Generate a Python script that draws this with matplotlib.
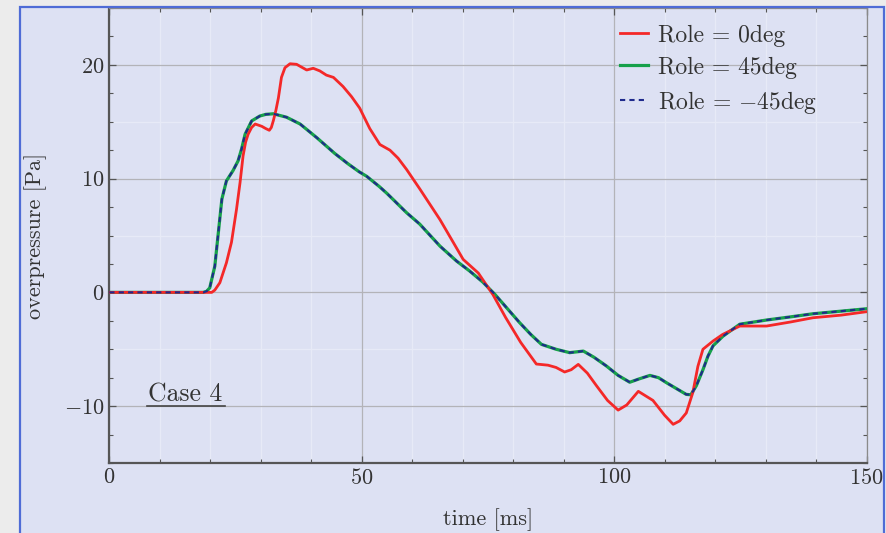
import numpy as np
import matplotlib
matplotlib.use('Agg')
import matplotlib.pyplot as plt
from matplotlib.patches import Rectangle
from matplotlib.ticker import MultipleLocator

plt.rcParams['font.family'] = 'cmr10'
plt.rcParams['mathtext.fontset'] = 'cm'
plt.rcParams['axes.formatter.use_mathtext'] = True

# pressure traces, time in ms, overpressure in Pa
t_0deg = [0, 20.3, 20.9, 21.9, 23.2, 24.2, 25.2, 25.9, 26.5, 27.0, 27.5, 28.2, 28.9,
          30.2, 31.0, 31.7, 32.1, 32.5, 33.0, 33.5, 34.1, 34.8, 35.8, 37.1, 38.1,
          39.1, 40.4, 41.7, 43.0, 44.4, 46.3, 48.0, 49.6, 51.6, 53.6, 55.6, 57.2,
          58.9, 61.5, 65.5, 68.0, 70.1, 73.1, 76.0, 78.5, 81.5, 84.6, 86.9, 88.5,
          90.2, 91.5, 92.9, 94.7, 96.5, 98.7, 100.8, 102.5, 104.8, 107.7, 110.0,
          111.7, 113.0, 114.3, 115.6, 116.6, 117.6, 119.6, 121.5, 124.9, 130.2,
          135.0, 139.4, 145.0, 150.0]
p_0deg = [0, 0, 0.2, 0.85, 2.6, 4.4, 7.3, 9.65, 12.0, 13.2, 13.9, 14.5, 14.8,
          14.6, 14.4, 14.25, 14.5, 15.1, 16.0, 17.1, 18.9, 19.75, 20.1, 20.05, 19.8,
          19.55, 19.7, 19.47, 19.1, 18.9, 18.1, 17.2, 16.2, 14.4, 13.0, 12.5, 11.8,
          10.8, 9.1, 6.4, 4.5, 2.9, 1.7, -0.2, -2.2, -4.4, -6.3, -6.4, -6.6,
          -7.0, -6.8, -6.33, -7.1, -8.2, -9.5, -10.35, -9.9, -8.7, -9.5, -10.8,
          -11.6, -11.3, -10.6, -8.8, -6.5, -5.0, -4.28, -3.7, -2.96, -2.96,
          -2.6, -2.23, -2.0, -1.7]

t_45deg = [0, 18.6, 19.3, 19.9, 20.9, 21.6, 22.3, 23.2, 24.5, 25.5, 26.2, 26.9,
           28.2, 29.8, 31.0, 32.5, 35.1, 37.8, 41.1, 44.7, 47.3, 49.5, 51.0,
           53.5, 55.0, 58.9, 61.5, 65.5, 68.8, 71.4, 74.0, 76.4, 78.8, 81.3,
           83.5, 85.6, 88.5, 91.2, 93.9, 96.0, 98.5, 100.8, 103.1, 105.0, 107.1,
           108.8, 110.4, 112.5, 114.3, 115.2, 116.3, 117.6, 118.6, 119.6, 121.6,
           124.9, 130.2, 135.0, 139.4, 145.0, 150.0]
p_45deg = [0, 0, 0.1, 0.4, 2.3, 5.25, 8.2, 9.8, 10.7, 11.55, 12.6, 13.9,
           15.07, 15.5, 15.65, 15.7, 15.4, 14.8, 13.6, 12.2, 11.3, 10.6, 10.2,
           9.3, 8.7, 7.0, 6.0, 4.07, 2.75, 1.87, 0.9, -0.18, -1.4, -2.67,
           -3.7, -4.57, -5.0, -5.3, -5.16, -5.7, -6.48, -7.3, -7.9, -7.6, -7.3,
           -7.5, -7.95, -8.5, -8.97, -9.0, -8.2, -6.8, -5.6, -4.7, -3.84,
           -2.8, -2.43, -2.15, -1.88, -1.65, -1.44]

# -45deg run is identical to +45deg
t_m45deg = t_45deg
p_m45deg = p_45deg

labels = ['Role = 0deg', 'Role = 45deg', 'Role = $-$45deg']

bg = '#dde1f3'
fig = plt.figure(figsize=(8.87, 5.33), dpi=100, facecolor='#ececec')
fig.patches.append(Rectangle((20 / 887, -0.05), 864 / 887, 1.05 - 7 / 533,
                             transform=fig.transFigure, facecolor=bg,
                             edgecolor='none', zorder=-5))

ax = fig.add_axes([109.3 / 887, 1 - 463 / 533, 757.2 / 887, 455 / 533])
ax.set_facecolor(bg)

l1, = ax.plot(t_0deg, p_0deg, color='#f42828', lw=2.0, zorder=4)
l2, = ax.plot(t_45deg, p_45deg, color='#16a04a', lw=2.3, zorder=3)
l3, = ax.plot(t_m45deg, p_m45deg, color='#1f2a8c', lw=1.5,
              ls=(0, (2.5, 2.0)), zorder=5)

ax.set_xlim(0, 150)
ax.set_ylim(-15, 25)
ax.xaxis.set_major_locator(MultipleLocator(50))
ax.xaxis.set_minor_locator(MultipleLocator(10))
ax.yaxis.set_major_locator(MultipleLocator(10))
ax.yaxis.set_minor_locator(MultipleLocator(2.5))

ax.grid(True, which='major', color='#b3b3b8', lw=0.9, zorder=1)
for xv in range(10, 150, 10):
    if xv % 50:
        ax.axvline(xv, color='#e7eaf7', lw=1.0, zorder=0.5)
for yv in [-5, 5, 15]:
    ax.axhline(yv, color='#e7eaf7', lw=1.0, zorder=0.5)

ax.tick_params(which='both', direction='in', top=True, right=True,
               labelsize=16, color='#555555')
ax.tick_params(which='major', length=5, width=0.9)
ax.tick_params(which='minor', length=3, width=0.8)
for s in ['left', 'bottom']:
    ax.spines[s].set_color('#555555')
    ax.spines[s].set_linewidth(1.6)
for s in ['top', 'right']:
    ax.spines[s].set_color('#8a8a8a')
    ax.spines[s].set_linewidth(0.9)

ax.set_xlabel('time [ms]', fontsize=16, color='#333333', labelpad=15)
ax.set_ylabel('overpressure [Pa]', fontsize=16, color='#333333', labelpad=12)
ax.tick_params(labelcolor='#333333')

ax.text(7.7, -9.55, 'Case 4', fontsize=18.5, color='#333333', va='baseline')
ax.plot([7.5, 22.9], [-10.0, -10.0], color='#444444', lw=1.2, zorder=2)

leg = ax.legend([l1, l2, l3], labels, loc='upper left',
                bbox_to_anchor=(0.652, 1.0), frameon=False, fontsize=17,
                handlelength=1.2, handletextpad=0.45, labelspacing=0.42,
                borderaxespad=0.3)
for txt in leg.get_texts():
    txt.set_color('#333333')

# panel border and outer margin
fig.patches.append(Rectangle((0, 0), 19 / 887, 1, transform=fig.transFigure,
                             facecolor='#ececec', edgecolor='none', zorder=8))
fig.patches.append(Rectangle((885 / 887, 0), 2 / 887, 1, transform=fig.transFigure,
                             facecolor='#ececec', edgecolor='none', zorder=8))
fig.patches.append(Rectangle((20 / 887, -0.05), 864 / 887, 1.05 - 7 / 533,
                             transform=fig.transFigure, facecolor='none',
                             edgecolor='#4f6cd6', lw=1.6, zorder=9))

fig.savefig('out.png', dpi=100, facecolor=fig.get_facecolor())
